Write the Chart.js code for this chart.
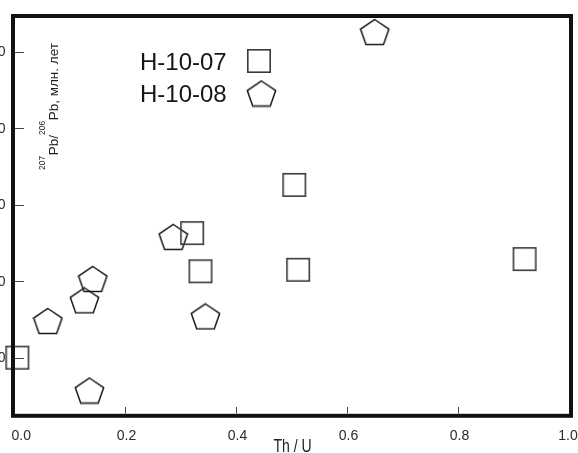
<!DOCTYPE html>
<html><head><meta charset="utf-8">
<script src="https://cdn.jsdelivr.net/npm/chart.js@4/dist/chart.umd.min.js"></script>
<style>html,body{margin:0;padding:0;background:#fff;overflow:hidden}#wrap{width:578px;height:453px;position:relative}canvas{display:block}</style>
</head><body><div id="wrap"><canvas id="c" width="578" height="453"></canvas></div>
<script>
// ---- data ----
const seriesNames = ['H-10-07', 'H-10-08'];
const thU_0710 = [0.006, 0.321, 0.336, 0.505, 0.512, 0.920];
const age_0710 = [2500, 2663, 2613, 2726, 2615, 2629];
const thU_0810 = [0.142, 0.127, 0.061, 0.136, 0.287, 0.345, 0.650];
const age_0810 = [2603, 2575, 2548, 2457, 2658, 2554, 2926];
const xTicks = [0, 0.2, 0.4, 0.6, 0.8, 1.0];
const xTickLabels = ['0.0', '0.2', '0.4', '0.6', '0.8', '1.0'];
const yTicks = [2500, 2600, 2700, 2800, 2900];
const yTickLabels = ['2500', '2600', '2700', '2800', '2900'];
const xTitle = 'Th / U';
const yTitleParts = [['207', true], ['Pb/', false], ['206', true], ['Pb, млн. лет', false]];

// ---- marker images ----
function squareImg() {
  const c = document.createElement('canvas'); c.width = 26; c.height = 26;
  const g = c.getContext('2d');
  g.strokeStyle = '#3a3a3a'; g.lineWidth = 1.6;
  g.strokeRect(1.8, 1.8, 22.4, 22.4);
  return c;
}
function pentagonImg() {
  const W = 31, H = 28; const c = document.createElement('canvas'); c.width = W; c.height = H;
  const g = c.getContext('2d');
  const Rx = 14.2 / Math.cos(18 * Math.PI / 180), Ry = 25 / (1 + Math.cos(36 * Math.PI / 180));
  const cx = W / 2, cy = H / 2 + 0.0955 * Ry;
  g.beginPath();
  for (let k = 0; k < 5; k++) {
    const a = (-90 + 72 * k) * Math.PI / 180;
    const px = cx + Rx * Math.cos(a), py = cy + Ry * Math.sin(a);
    k === 0 ? g.moveTo(px, py) : g.lineTo(px, py);
  }
  g.closePath();
  g.strokeStyle = '#1a1a1a'; g.lineWidth = 1.5; g.lineJoin = 'miter';
  g.stroke();
  return c;
}
const sqImg = squareImg();
const pentImg = pentagonImg();

const toPts = (xs, ys) => xs.map((x, i) => ({ x: x, y: ys[i] }));

const decor = {
  id: 'decor',
  afterDatasetsDraw(chart) {
    const ctx = chart.ctx, ca = chart.chartArea;
    const xs = chart.scales.x, ys = chart.scales.y;
    ctx.save();
    // ticks (inward)
    ctx.strokeStyle = '#444'; ctx.lineWidth = 1;
    xTicks.forEach(v => {
      const px = Math.round(xs.getPixelForValue(v)) + 0.5;
      if (v <= xs.min || v >= xs.max) return;
      ctx.beginPath(); ctx.moveTo(px, ca.bottom - 1.5); ctx.lineTo(px, ca.bottom - 8); ctx.stroke();
    });
    yTicks.forEach(v => {
      const py = Math.round(ys.getPixelForValue(v)) + 0.5;
      ctx.beginPath(); ctx.moveTo(ca.left + 1, py); ctx.lineTo(ca.left + 10, py); ctx.stroke();
    });
    // frame
    ctx.strokeStyle = '#141010'; ctx.lineWidth = 4;
    ctx.strokeRect(ca.left - 1, ca.top, (ca.right + 2) - (ca.left - 1), ca.bottom + 0.8 - ca.top);
    // x tick labels
    ctx.fillStyle = '#2a2a2a'; ctx.font = '14px "Liberation Sans", Arial, sans-serif';
    ctx.textBaseline = 'alphabetic';
    xTicks.forEach((v, i) => {
      const px = xs.getPixelForValue(v);
      if (i === 0) { ctx.textAlign = 'left'; ctx.fillText(xTickLabels[i], px - 2.5, 440); }
      else { ctx.textAlign = 'center'; ctx.fillText(xTickLabels[i], px + (i === xTicks.length - 1 ? -1 : 1.5), 440); }
    });
    // y tick labels (mostly cut off at left edge)
    ctx.textAlign = 'right'; ctx.textBaseline = 'middle';
    yTicks.forEach((v, i) => {
      ctx.fillText(yTickLabels[i], 5.5, ys.getPixelForValue(v) + 0.5);
    });
    // x title (condensed)
    ctx.save();
    ctx.translate((ca.left + ca.right) / 2 + 1, 452);
    ctx.scale(0.78, 1);
    ctx.textAlign = 'center'; ctx.textBaseline = 'alphabetic';
    ctx.font = '18px "Liberation Sans", Arial, sans-serif';
    ctx.fillStyle = '#222';
    ctx.fillText(xTitle, 0, 0);
    ctx.restore();
    // y title (rotated, with superscripts)
    ctx.save();
    ctx.translate(58.3, 170);
    ctx.rotate(-Math.PI / 2);
    ctx.textAlign = 'left'; ctx.textBaseline = 'alphabetic'; ctx.fillStyle = '#1e1e1e';
    let off = 0;
    yTitleParts.forEach(([t, sup]) => {
      ctx.font = sup ? '8.5px "Liberation Sans", Arial, sans-serif' : '13.5px "Liberation Sans", Arial, sans-serif';
      ctx.fillText(t, off, sup ? -13 : 0);
      off += ctx.measureText(t).width + (sup ? 0.5 : 0);
    });
    ctx.restore();
    // legend
    ctx.font = '24px "Liberation Sans", Arial, sans-serif';
    ctx.fillStyle = '#161616'; ctx.textAlign = 'left'; ctx.textBaseline = 'alphabetic';
    ctx.fillText(seriesNames[0], 140, 70);
    ctx.fillText(seriesNames[1], 140, 101.7);
    ctx.drawImage(sqImg, 259 - sqImg.width / 2, 61 - sqImg.height / 2);
    ctx.drawImage(pentImg, 261.5 - pentImg.width / 2, 93.5 - pentImg.height / 2);
    ctx.restore();
  }
};

new Chart(document.getElementById('c'), {
  type: 'scatter',
  data: {
    datasets: [
      { label: seriesNames[0], data: toPts(thU_0710, age_0710), pointStyle: sqImg, pointRadius: 12, pointHoverRadius: 12, clip: false, showLine: false },
      { label: seriesNames[1], data: toPts(thU_0810, age_0810), pointStyle: pentImg, pointRadius: 13, pointHoverRadius: 13, clip: false, showLine: false }
    ]
  },
  options: {
    responsive: false,
    devicePixelRatio: 1,
    animation: false,
    events: [],
    layout: { autoPadding: false, padding: { left: 14, right: 9, top: 16, bottom: 38 } },
    plugins: { legend: { display: false }, tooltip: { enabled: false } },
    scales: {
      x: { type: 'linear', min: 0, max: 1, display: false },
      y: { type: 'linear', min: 2425, max: 2947, display: false }
    }
  },
  plugins: [decor]
});
</script>
</body></html>
